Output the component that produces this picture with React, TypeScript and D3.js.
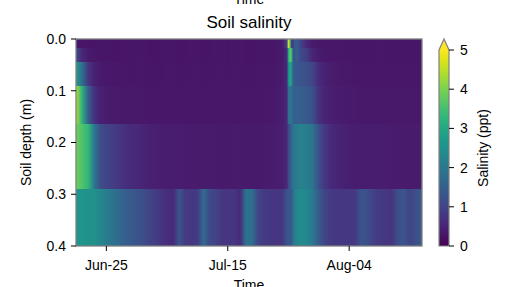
import React from 'react'
import * as d3 from 'd3'

// time nodes (days after start), finer around the late-July salt pulse
const startDate = '2023-06-20'
const endDate = '2023-08-16'
const dayOffsets = [
  0, 1, 2, 3, 4, 5, 6, 7, 8, 9, 10, 11, 12, 13, 14, 15, 16, 17, 18, 19,
  20, 21, 22, 23, 24, 25, 26, 27, 28, 29, 30, 31, 32, 33, 34,
  34.75, 35, 35.25, 35.5, 35.75, 36, 36.5, 37,
  38, 39, 40, 41, 42, 43, 44, 45, 46, 47, 48, 49, 50, 51, 52, 53, 54, 55, 56, 57,
]

// layer boundaries in metres
const depthEdges = [0, 0.017, 0.045, 0.09, 0.165, 0.29, 0.4]

// salinity (ppt) per layer, top to bottom
const layer0 = [
  0.30, 0.28, 0.27, 0.27, 0.28, 0.28, 0.27, 0.27, 0.28, 0.27,
  0.30, 0.28, 0.27, 0.27, 0.27, 0.28, 0.28, 0.27, 0.27, 0.28,
  0.28, 0.27, 0.27, 0.28, 0.28, 0.27, 0.28, 0.28, 0.27, 0.27,
  0.28, 0.28, 0.28, 0.30, 0.34,
  1.0, 4.7, 3.6, 1.0, 0.8, 1.4, 1.4, 1.0,
  0.55, 0.35, 0.32, 0.30, 0.30, 0.30, 0.30, 0.28, 0.28, 0.28,
  0.28, 0.28, 0.30, 0.28, 0.28, 0.28, 0.28, 0.28, 0.28, 0.30,
]
const layer1 = [
  1.10, 0.55, 0.35, 0.30, 0.28, 0.28, 0.27, 0.27, 0.28, 0.27,
  0.30, 0.28, 0.27, 0.27, 0.27, 0.28, 0.28, 0.27, 0.27, 0.28,
  0.28, 0.27, 0.27, 0.28, 0.28, 0.27, 0.28, 0.28, 0.27, 0.27,
  0.28, 0.28, 0.28, 0.30, 0.35,
  0.6, 3.0, 3.8, 3.4, 1.3, 1.3, 1.5, 1.1,
  0.9, 0.5, 0.38, 0.32, 0.30, 0.30, 0.30, 0.28, 0.28, 0.28,
  0.28, 0.28, 0.30, 0.28, 0.28, 0.28, 0.28, 0.28, 0.28, 0.30,
]
const layer2 = [
  2.70, 1.80, 0.80, 0.45, 0.35, 0.32, 0.30, 0.30, 0.30, 0.29,
  0.31, 0.30, 0.29, 0.29, 0.29, 0.30, 0.30, 0.29, 0.29, 0.30,
  0.30, 0.29, 0.29, 0.30, 0.30, 0.29, 0.30, 0.30, 0.29, 0.29,
  0.30, 0.30, 0.30, 0.32, 0.38,
  0.6, 2.4, 3.0, 2.6, 1.6, 1.4, 1.3, 1.3,
  1.2, 1.0, 0.6, 0.45, 0.38, 0.35, 0.33, 0.32, 0.31, 0.30,
  0.30, 0.30, 0.31, 0.30, 0.30, 0.30, 0.30, 0.30, 0.30, 0.31,
]
const layer3 = [
  4.40, 3.20, 1.50, 0.70, 0.45, 0.38, 0.35, 0.34, 0.33, 0.32,
  0.33, 0.32, 0.31, 0.31, 0.31, 0.31, 0.31, 0.30, 0.30, 0.31,
  0.31, 0.30, 0.30, 0.31, 0.31, 0.30, 0.31, 0.31, 0.30, 0.30,
  0.31, 0.31, 0.32, 0.34, 0.40,
  0.55, 1.8, 2.0, 1.8, 1.6, 1.5, 1.5, 1.5,
  1.4, 1.2, 0.7, 0.5, 0.42, 0.38, 0.36, 0.35, 0.34, 0.33,
  0.33, 0.32, 0.33, 0.32, 0.32, 0.32, 0.32, 0.32, 0.32, 0.33,
]
const layer4 = [
  3.90, 3.60, 3.30, 2.00, 1.20, 1.00, 0.90, 0.80, 0.70, 0.60,
  0.55, 0.50, 0.46, 0.43, 0.41, 0.40, 0.39, 0.38, 0.37, 0.37,
  0.36, 0.36, 0.36, 0.36, 0.35, 0.35, 0.36, 0.36, 0.35, 0.35,
  0.35, 0.36, 0.36, 0.38, 0.42,
  0.55, 1.1, 1.4, 1.6, 1.9, 2.0, 2.1, 2.2,
  2.1, 1.9, 1.2, 0.8, 0.6, 0.5, 0.45, 0.42, 0.40, 0.40,
  0.39, 0.38, 0.38, 0.38, 0.37, 0.37, 0.37, 0.37, 0.37, 0.38,
]
const layer5 = [
  2.6, 2.6, 2.5, 2.5, 2.3, 2.1, 1.9, 1.7, 1.5, 1.4,
  1.3, 1.2, 1.0, 0.9, 0.75, 0.65, 0.55, 1.3, 0.85, 0.8,
  0.85, 1.7, 1.1, 1.0, 0.8, 0.75, 0.8, 0.6, 1.9, 1.8,
  1.0, 0.85, 0.8, 0.75, 0.8,
  1.3, 1.3, 1.3, 1.4, 1.8, 2.1, 2.3, 2.4,
  2.3, 2.0, 1.4, 1.0, 0.85, 0.8, 0.8, 0.8, 0.85, 1.3,
  1.2, 0.95, 0.85, 0.8, 0.75, 1.2, 1.3, 1.0, 1.2, 1.4,
]
const layers = [layer0, layer1, layer2, layer3, layer4, layer5]

const xTickDates = ['2023-06-25', '2023-07-15', '2023-08-04']
const yTicks = [0, 0.1, 0.2, 0.3, 0.4]
const cbarTicks = [0, 1, 2, 3, 4, 5]

const font = '"Liberation Sans", Arial, sans-serif'
const DAY = 86400000

export default function App() {
  const left = 76, right = 422, top = 39, bottom = 246
  const t0 = new Date(startDate + 'T00:00:00Z')
  const x = d3.scaleUtc()
    .domain([t0, new Date(endDate + 'T00:00:00Z')])
    .range([left, right])
  const y = d3.scaleLinear().domain([0, 0.4]).range([top, bottom])
  const color = (v: number) => d3.interpolateViridis(Math.max(0, Math.min(1, v / 5)))
  const cb = d3.scaleLinear().domain([0, 5]).range([246, 50])
  const cbX = 439, cbW = 10
  const fmtDate = d3.utcFormat('%b-%d')
  const w = right - left

  return (
    <svg width={508} height={287} style={{ position: 'absolute', left: 0, top: 0 }}
      fontFamily={font}>
      <defs>
        {layers.map((vals, i) => (
          <linearGradient key={i} id={'lay' + i} gradientUnits="userSpaceOnUse"
            x1={left} x2={right} y1={0} y2={0}>
            {vals.map((v, j) => (
              <stop key={j}
                offset={(x(new Date(t0.getTime() + dayOffsets[j] * DAY)) - left) / w}
                stopColor={color(v)} />
            ))}
          </linearGradient>
        ))}
        <linearGradient id="cbar" x1={0} y1={1} x2={0} y2={0}>
          {d3.range(0, 1.0001, 0.05).map(t => (
            <stop key={t} offset={t} stopColor={d3.interpolateViridis(t)} />
          ))}
        </linearGradient>
      </defs>

      <text x={249} y={4} textAnchor="middle" fontSize={14}>Time</text>
      <text x={249} y={28} textAnchor="middle" fontSize={17}>Soil salinity</text>

      {/* dark backdrop, then each layer as its own band */}
      <rect x={left} y={top} width={w} height={bottom - top} fill={color(0.3)} />
      {layers.map((_, i) => {
        const y0 = Math.round(y(depthEdges[i]))
        const y1 = Math.round(y(depthEdges[i + 1]))
        return (
          <rect key={i} x={left} width={w} y={y0} height={y1 - y0}
            fill={`url(#lay${i})`} />
        )
      })}
      <rect x={left} y={top} width={w} height={bottom - top} fill="none"
        stroke="#808080" strokeWidth={1.3} />

      {yTicks.map(t => (
        <g key={t}>
          <line x1={left - 5} x2={left} y1={y(t)} y2={y(t)} stroke="#000" strokeWidth={1} />
          <text x={left - 10} y={y(t)} dy="0.35em" textAnchor="end" fontSize={14}>
            {d3.format('.1f')(t)}
          </text>
        </g>
      ))}
      {xTickDates.map(s => {
        const px = x(new Date(s + 'T00:00:00Z'))
        return (
          <g key={s}>
            <line x1={px} x2={px} y1={bottom} y2={bottom + 5} stroke="#000" strokeWidth={1} />
            <text x={px} y={270} textAnchor="middle" fontSize={14}>
              {fmtDate(new Date(s + 'T00:00:00Z'))}
            </text>
          </g>
        )
      })}
      <text x={249} y={290} textAnchor="middle" fontSize={14}>Time</text>
      <text transform={`translate(31,${(top + bottom) / 2}) rotate(-90)`} textAnchor="middle"
        fontSize={14}>Soil depth (m)</text>

      <rect x={cbX} y={cb(5)} width={cbW} height={cb(0) - cb(5)} fill="url(#cbar)" />
      <path d={`M${cbX},${cb(5)} L${cbX + cbW / 2},39 L${cbX + cbW},${cb(5)} Z`}
        fill={d3.interpolateViridis(1)} />
      <path d={`M${cbX},${cb(0)} L${cbX},${cb(5)} L${cbX + cbW / 2},39 L${cbX + cbW},${cb(5)} L${cbX + cbW},${cb(0)} Z`}
        fill="none" stroke="#808080" strokeWidth={1.2} />
      {cbarTicks.map(t => (
        <g key={t}>
          <line x1={cbX + cbW} x2={cbX + cbW + 5} y1={cb(t)} y2={cb(t)} stroke="#000" strokeWidth={1} />
          <text x={cbX + cbW + 11} y={cb(t)} dy="0.35em" fontSize={14}>{t}</text>
        </g>
      ))}
      <text transform={`translate(488,${(cb(0) + cb(5)) / 2}) rotate(-90)`} textAnchor="middle"
        fontSize={14}>Salinity (ppt)</text>
    </svg>
  )
}
